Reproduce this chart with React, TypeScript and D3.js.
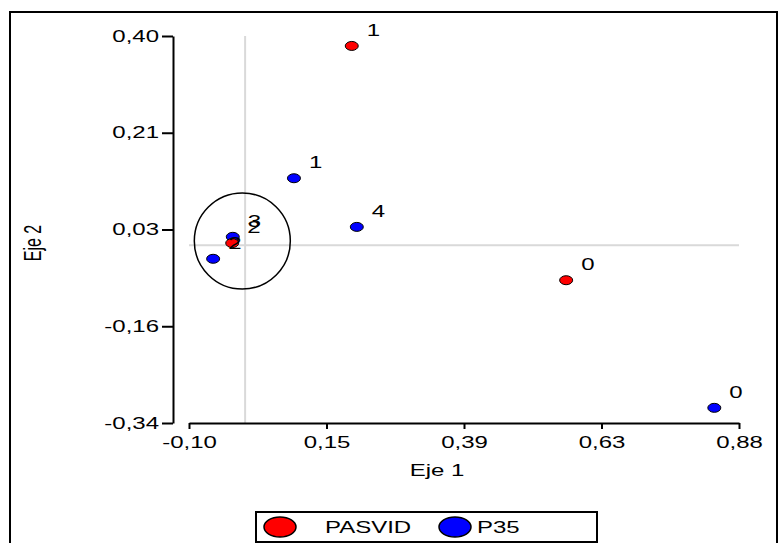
import { useEffect, useRef } from 'react'
import * as d3 from 'd3'

// axis ticks (evenly spaced, labels as printed)
const xTickVals = [-0.10, 0.145, 0.39, 0.635, 0.88]
const xTickLabels = ['-0,10', '0,15', '0,39', '0,63', '0,88']
const yTickVals = [-0.34, -0.155, 0.03, 0.215, 0.40]
const yTickLabels = ['-0,34', '-0,16', '0,03', '0,21', '0,40']

// PASVID (red)
const pasvidLabels = ['1', '0', '2']
const pasvidX = [0.190, 0.572, -0.023]
const pasvidY = [0.381, -0.067, 0.004]

// P35 (blue)
const p35Labels = ['1', '4', '0', '3', '2']
const p35X = [0.087, 0.199, 0.836, -0.022, -0.057]
const p35Y = [0.128, 0.035, -0.311, 0.016, -0.026]

const seriesNames = ['PASVID', 'P35']
const seriesColors = ['#ff0000', '#0000ff']

const FONT = 'Liberation Sans, Arial, sans-serif'
const SX = 1.5 // the picture is stretched sideways

export default function App() {
    const ref = useRef<SVGSVGElement>(null)

    useEffect(() => {
        const svg = d3.select(ref.current)
        svg.selectAll('*').remove()

        const x = d3.scaleLinear().domain([-0.10, 0.88]).range([189, 739])
        const y = d3.scaleLinear().domain([-0.34, 0.40]).range([423, 36])

        // outer frame
        svg.append('path')
            .attr('d', 'M10,545V12H777V545')
            .attr('fill', 'none')
            .attr('stroke', 'black')
            .attr('stroke-width', 2)

        // reference lines
        svg.append('line')
            .attr('x1', x(0)).attr('x2', x(0))
            .attr('y1', y(0.40)).attr('y2', y(-0.34))
            .attr('stroke', '#d9d9d9').attr('stroke-width', 2)
        svg.append('line')
            .attr('x1', x(-0.10)).attr('x2', x(0.88))
            .attr('y1', y(0)).attr('y2', y(0))
            .attr('stroke', '#d9d9d9').attr('stroke-width', 2)

        // axes
        const xAxis = svg.append('g')
            .attr('transform', 'translate(0,423)')
            .call(d3.axisBottom(x)
                .tickValues(xTickVals)
                .tickFormat((_, i) => xTickLabels[i])
                .tickSize(6)
                .tickSizeOuter(0)
                .tickPadding(8))
        const yAxis = svg.append('g')
            .attr('transform', 'translate(173,0)')
            .call(d3.axisLeft(y)
                .tickValues(yTickVals)
                .tickFormat((_, i) => yTickLabels[i])
                .tickSize(11)
                .tickSizeOuter(0)
                .tickPadding(3))

        for (const ax of [xAxis, yAxis]) {
            ax.selectAll('path, line').attr('stroke', 'black').attr('stroke-width', 2)
            ax.selectAll('text')
                .attr('font-family', FONT)
                .attr('font-size', 16)
                .attr('fill', 'black')
                .attr('transform', `scale(${SX},1)`)
        }
        yAxis.selectAll('text').attr('x', -14 / SX)

        // titles
        svg.append('text')
            .attr('x', 437 / SX).attr('y', 476)
            .attr('transform', `scale(${SX},1)`)
            .attr('text-anchor', 'middle')
            .attr('font-family', FONT).attr('font-size', 16)
            .text('Eje 1')
        svg.append('text')
            .attr('transform', `translate(41,243) scale(${SX},1) rotate(-90)`)
            .attr('text-anchor', 'middle')
            .attr('font-family', FONT).attr('font-size', 16)
            .text('Eje 2')

        // highlight circle
        svg.append('circle')
            .attr('cx', x(-0.005)).attr('cy', y(0.008))
            .attr('r', 48)
            .attr('fill', 'none')
            .attr('stroke', 'black')
            .attr('stroke-width', 1.5)

        const series = [
            { labels: p35Labels, xs: p35X, ys: p35Y, color: seriesColors[1] },
            { labels: pasvidLabels, xs: pasvidX, ys: pasvidY, color: seriesColors[0] }
        ]

        series.forEach(s => {
            svg.append('g')
                .selectAll('ellipse')
                .data(s.xs)
                .join('ellipse')
                .attr('cx', d => x(d))
                .attr('cy', (_, i) => y(s.ys[i]))
                .attr('rx', 6.5)
                .attr('ry', 4.5)
                .attr('fill', s.color)
                .attr('stroke', 'black')
                .attr('stroke-width', 1)
        })

        series.forEach(s => {
            svg.append('g')
                .selectAll('text')
                .data(s.labels)
                .join('text')
                .attr('x', (_, i) => (x(s.xs[i]) + 15) / SX)
                .attr('y', (_, i) => y(s.ys[i]) - 10)
                .attr('transform', `scale(${SX},1)`)
                .attr('font-family', FONT)
                .attr('font-size', 16)
                .text(d => d)
        })

        // legend
        const legend = svg.append('g')
        legend.append('rect')
            .attr('x', 256).attr('y', 512)
            .attr('width', 341).attr('height', 30)
            .attr('fill', 'white')
            .attr('stroke', 'black')
            .attr('stroke-width', 2)
        const legendX = [280, 455]
        const legendTextX = [325, 477]
        seriesNames.forEach((name, i) => {
            legend.append('ellipse')
                .attr('cx', legendX[i]).attr('cy', 527)
                .attr('rx', 16).attr('ry', 10)
                .attr('fill', seriesColors[i])
                .attr('stroke', 'black')
                .attr('stroke-width', 1.5)
            legend.append('text')
                .attr('x', legendTextX[i] / SX).attr('y', 533)
                .attr('transform', `scale(${SX},1)`)
                .attr('font-family', FONT).attr('font-size', 16)
                .text(name)
        })
    }, [])

    return (
        <svg
            ref={ref}
            width={779}
            height={543}
            style={{ position: 'absolute', left: 0, top: 0, background: 'white' }}
        />
    )
}
